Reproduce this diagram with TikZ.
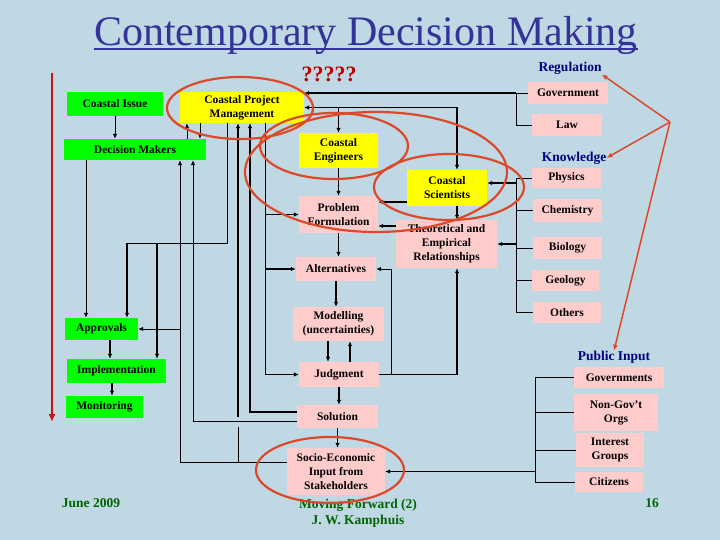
\documentclass[tikz,border=0pt]{standalone}
\usepackage{fontspec}
\setmainfont{Liberation Serif}
\usetikzlibrary{arrows.meta}
\definecolor{bgblue}{RGB}{192,216,228}
\definecolor{boxgreen}{RGB}{0,255,0}
\definecolor{boxyellow}{RGB}{255,255,0}
\definecolor{boxpink}{RGB}{255,204,204}
\definecolor{titleblue}{RGB}{51,51,153}
\definecolor{headnavy}{RGB}{0,0,128}
\definecolor{ringred}{RGB}{221,72,40}
\definecolor{footgreen}{RGB}{0,100,0}
\definecolor{timered}{RGB}{204,17,17}
\definecolor{qred}{RGB}{190,0,0}
\begin{document}
\begin{tikzpicture}[x=1pt,y=-1pt,
    box/.style={inner sep=0pt,align=center,font=\bfseries\fontsize{11.5}{14}\selectfont},
    boxsize/.style 2 args={minimum width=#1pt,minimum height=#2pt},
    greenbox/.style={box,fill=boxgreen},
    yellowbox/.style={box,fill=boxyellow},
    pinkbox/.style={box,fill=boxpink},
    head/.style={inner sep=0pt,text=headnavy,font=\bfseries\fontsize{13.5}{16}\selectfont},
    foot/.style={inner sep=0pt,align=center,text=footgreen,font=\bfseries\fontsize{13.5}{16}\selectfont},
    wire/.style={line width=0.9pt},
    bus/.style={line width=1.7pt},
    arr/.style={-{Latex[length=5pt,width=4.5pt]}},
    ring/.style={draw=ringred,line width=2.2pt},
    pointer/.style={draw=ringred,line width=1.5pt,-{Latex[length=6pt,width=5pt]}}]
        \useasboundingbox (0,0) rectangle (720,540);
        \fill[bgblue] (0,0) rectangle (720,540);
        % title
        \node[inner sep=0pt,anchor=base,text=titleblue,font=\fontsize{42}{42}\selectfont] (title) at (366,46) {Contemporary Decision Making};
        \draw[titleblue,line width=2pt] ([yshift=-3.5pt]title.base west) -- ([yshift=-3.5pt]title.base east);
        \node[inner sep=0pt,text=qred,font=\bfseries\fontsize{22}{22}\selectfont] (unknown) at (329,74) {?????};
        % decision side
        \node[greenbox,boxsize={96}{24}] (issue) at (115,104) {Coastal Issue};
        \node[yellowbox,boxsize={124}{31}] (cpm) at (242,107.5) {Coastal Project\\Management};
        \node[greenbox,boxsize={142}{21}] (makers) at (135,149.5) {Decision Makers};
        \node[greenbox,boxsize={73}{22}] (approvals) at (101.5,329) {Approvals};
        \node[greenbox,boxsize={99}{24}] (implem) at (116.5,371) {Implementation};
        \node[greenbox,boxsize={77}{22}] (monitor) at (104.5,407) {Monitoring};
        % technical side
        \node[yellowbox,boxsize={79}{35}] (engineers) at (338.5,150.5) {Coastal\\Engineers};
        \node[yellowbox,boxsize={80}{36}] (scientists) at (447,188) {Coastal\\Scientists};
        \node[pinkbox,boxsize={79}{37}] (problem) at (338.5,214.5) {Problem\\Formulation};
        \node[pinkbox,boxsize={101}{48}] (theory) at (446.5,244) {Theoretical and\\Empirical\\Relationships};
        \node[pinkbox,boxsize={80}{24}] (altern) at (336,269) {Alternatives};
        \node[pinkbox,boxsize={91}{34}] (model) at (338.5,324) {Modelling\\(uncertainties)};
        \node[pinkbox,boxsize={80}{25}] (judgment) at (339,374.5) {Judgment};
        \node[pinkbox,boxsize={81}{23}] (solution) at (337.5,416.5) {Solution};
        \node[pinkbox,boxsize={98}{47}] (socio) at (336,471.5) {Socio-Economic\\Input from\\Stakeholders};
        % inputs
        \node[head] (regulation) at (570,68) {Regulation};
        \node[pinkbox,boxsize={80}{22}] (govt) at (568,93) {Government};
        \node[pinkbox,boxsize={70}{22}] (law) at (567,125) {Law};
        \node[head] (knowledge) at (574,158) {Knowledge};
        \node[pinkbox,boxsize={69}{20}] (physics) at (566.5,178) {Physics};
        \node[pinkbox,boxsize={69}{23}] (chemistry) at (567.5,210.5) {Chemistry};
        \node[pinkbox,boxsize={69}{22}] (biology) at (567.5,248) {Biology};
        \node[pinkbox,boxsize={67}{21}] (geology) at (565.5,280.5) {Geology};
        \node[pinkbox,boxsize={68}{21}] (others) at (567,312.5) {Others};
        \node[head] (public) at (614,357) {Public Input};
        \node[pinkbox,boxsize={90}{21}] (govts) at (619,377.5) {Governments};
        \node[pinkbox,boxsize={84}{37}] (ngo) at (616,412.5) {Non-Gov’t\\Orgs};
        \node[pinkbox,boxsize={68}{34}] (interest) at (610,450) {Interest\\Groups};
        \node[pinkbox,boxsize={68}{20}] (citizens) at (609,482) {Citizens};
        % footer
        \node[foot] (date) at (91,503) {June 2009};
        \node[foot] (talk) at (358,513) {Moving Forward (2)\\J. W. Kamphuis};
        \node[foot] (page) at (652,503) {16};
        % bus lines
        \coordinate (toApproval) at (86,0);
        \coordinate (apprImpl) at (110,0);
        \coordinate (implMon) at (112,0);
        \coordinate (implDrop) at (157,0);
        \coordinate (leftReturn) at (180,0);
        \coordinate (upLink) at (187,0);
        \coordinate (midReturn) at (193,0);
        \coordinate (downLink) at (200,0);
        \coordinate (cpmDrop) at (227,0);
        \coordinate (cpmReturnA) at (238,0);
        \coordinate (cpmReturnB) at (250,0);
        \coordinate (cpmFeed) at (265,0);
        \coordinate (modelDown) at (328,0);
        \coordinate (modelUp) at (350,0);
        \coordinate (altFeed) at (391,0);
        \coordinate (sciDrop) at (457,0);
        \coordinate (knowBus) at (516,0);
        \coordinate (regBus) at (516,0);
        \coordinate (pubBus) at (535,0);
        \coordinate (cpmElbow) at (127,243);
        \coordinate (gapTop) at (238,417);
        \coordinate (socioFeed) at ([yshift=9.5pt]socio.west);
        \coordinate (solFeedLow) at ([yshift=-4.5pt]solution.west);
        \coordinate (solFeedHigh) at ([yshift=4.5pt]solution.west);
        \coordinate (sciOut) at ([yshift=-14pt]scientists.west);
        \coordinate (sciIn) at ([yshift=5pt]scientists.east);
        \coordinate (theoOut) at ([yshift=18pt]theory.west);
        % left column
        \draw[wire,arr] (issue.south) -- (issue.south |- makers.north);
        \draw[wire,arr] (makers.north -| upLink) -- (cpm.south -| upLink);
        \draw[wire,arr] (cpm.south -| downLink) -- (makers.north -| downLink);
        \draw[wire,arr] (makers.south -| toApproval) -- (approvals.north -| toApproval);
        \draw[wire] (cpm.south -| cpmDrop) |- (cpmElbow);
        \draw[bus,arr] (cpmElbow) -- (approvals.north -| cpmElbow);
        \draw[bus,arr] (cpmElbow -| implDrop) -- (implem.north -| implDrop);
        \draw[bus,arr] (approvals.south -| apprImpl) -- (implem.north -| apprImpl);
        \draw[bus,arr] (implem.south -| implMon) -- (monitor.north -| implMon);
        \draw[wire,arr] (approvals.east -| leftReturn) -- (approvals.east);
        % feedback to the decision side
        \draw[wire,arr] (socioFeed) -| (makers.south -| leftReturn);
        \draw[wire] (socioFeed -| cpmReturnA) -- ++(0,-35);
        \draw[bus,arr] (gapTop) -- (cpm.south -| gapTop);
        \draw[wire,arr] (solFeedLow) -| (makers.south -| midReturn);
        \draw[bus,arr] (solFeedHigh) -| (cpm.south -| cpmReturnB);
        \draw[wire,arr] (cpm.south -| cpmFeed) |- (judgment.west);
        \draw[bus,arr] (problem.west -| cpmFeed) -- (problem.west);
        \draw[bus,arr] (altern.west -| cpmFeed) -- (altern.west);
        % centre column
        \draw[bus,arr] (cpm.east -| sciDrop) -- (cpm.east);
        \draw[bus,arr] (cpm.east -| sciDrop) -- (scientists.north -| sciDrop);
        \draw[bus,arr] (cpm.east -| engineers.north) -- (engineers.north);
        \draw[bus,arr] (engineers) -- (problem);
        \draw[bus,arr] (problem.south) -- (problem.south |- altern.north);
        \draw[bus,arr] (altern.south) -- (altern.south |- model.north);
        \draw[bus,arr] (model.south -| modelDown) -- (judgment.north -| modelDown);
        \draw[bus,arr] (judgment.north -| modelUp) -- (model.south -| modelUp);
        \draw[bus,arr] (judgment.south) -- (judgment.south |- solution.north);
        \draw[bus,arr] (solution.south) -- (solution.south |- socio.north);
        \draw[bus,arr] (scientists.south -| sciDrop) -- (theory.north -| sciDrop);
        \draw[bus,arr] (sciOut) -- (sciOut -| problem.east);
        \draw[bus,arr] (theoOut) -- (theoOut -| problem.east);
        \draw[bus,arr] (judgment.east) -| (theory.south -| sciDrop);
        \draw[wire,arr] (judgment.east -| altFeed) |- (altern.east);
        % brackets
        \draw[wire] (govt.west) -| (regBus |- law.west) -- (law.west);
        \draw[bus,arr] (govt.west -| regBus) -- (govt.west -| cpm.east);
        \draw[wire] (physics.west -| knowBus) -- (others.west -| knowBus);
        \foreach \n in {physics,chemistry,biology,geology,others}
            \draw[wire] (\n.west -| knowBus) -- (\n.west);
        \draw[bus,arr] (sciIn -| knowBus) -- (sciIn);
        \draw[bus,arr] (theory.east -| knowBus) -- (theory.east);
        \draw[wire] (govts.west -| pubBus) -- (citizens.west -| pubBus);
        \foreach \n in {govts,ngo,interest,citizens}
            \draw[wire] (\n.west -| pubBus) -- (\n.west);
        \draw[bus,arr] (socio.east -| pubBus) -- (socio.east);
        % red marks
        \coordinate (hub) at (670,122);
        \draw[pointer] (hub) -- (regulation.south east);
        \draw[pointer] (hub) -- (knowledge.east);
        \draw[pointer] (hub) -- (public.north);
        \coordinate (timeStart) at (52,73);
        \coordinate (timeEnd) at (52,422);
        \draw[timered,line width=2.8pt,-{Latex[length=8pt,width=7pt]}] (timeStart) -- (timeEnd);
        \draw[ring] (240,108) ellipse [x radius=73pt,y radius=31pt];
        \draw[ring] (334,146) ellipse [x radius=74pt,y radius=33pt];
        \draw[ring] (376,172) ellipse [x radius=131pt,y radius=60pt];
        \draw[ring] (449,187) ellipse [x radius=75pt,y radius=33pt];
        \draw[ring] (330,470) ellipse [x radius=74pt,y radius=33pt];
    \end{tikzpicture}
\end{document}
